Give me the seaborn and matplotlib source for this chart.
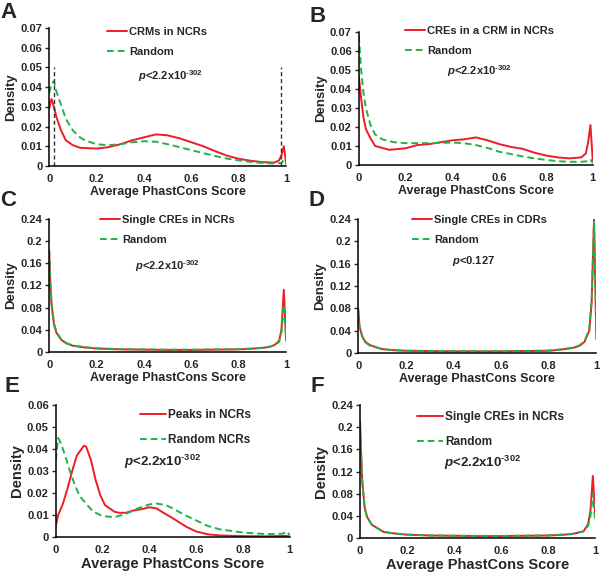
import numpy as np
import seaborn as sns
import matplotlib.pyplot as plt
from matplotlib.lines import Line2D

sns.set_style("white")
plt.rcParams['font.family'] = ['Liberation Sans', 'DejaVu Sans']
plt.rcParams['font.weight'] = 'bold'
plt.rcParams['mathtext.fontset'] = 'custom'
plt.rcParams['mathtext.rm'] = 'Liberation Sans'
plt.rcParams['mathtext.it'] = 'Liberation Sans:bold:italic'
plt.rcParams['mathtext.bf'] = 'Liberation Sans:bold'

RED = '#ee1c24'
GREEN = '#1fb34a'

# ---- data ----
# A: CRMs in NCRs vs random
a_x_red = [0, 0.005, 0.01, 0.02, 0.03, 0.05, 0.07, 0.1, 0.13, 0.2, 0.25, 0.3, 0.35, 0.4, 0.45, 0.5,
           0.55, 0.6, 0.65, 0.7, 0.75, 0.8, 0.85, 0.9, 0.95, 0.97, 0.98, 0.99, 1.0]
a_y_red = [0.029, 0.032, 0.034, 0.030, 0.025, 0.018, 0.013, 0.0105, 0.0092, 0.0088, 0.0095, 0.011,
           0.013, 0.0145, 0.016, 0.0155, 0.014, 0.012, 0.0100, 0.0075, 0.0052, 0.0036, 0.0026,
           0.0019, 0.0017, 0.0028, 0.0055, 0.0100, 0.0010]
a_x_grn = [0, 0.01, 0.02, 0.03, 0.05, 0.07, 0.1, 0.13, 0.15, 0.2, 0.25, 0.3, 0.35, 0.4, 0.45, 0.5,
           0.55, 0.6, 0.65, 0.7, 0.75, 0.8, 0.85, 0.9, 0.95, 0.98, 0.99, 1.0]
a_y_grn = [0.037, 0.042, 0.043, 0.038, 0.031, 0.024, 0.018, 0.0145, 0.013, 0.011, 0.0105, 0.011,
           0.012, 0.0125, 0.0123, 0.011, 0.0095, 0.008, 0.0065, 0.005, 0.0037, 0.0028, 0.002,
           0.0015, 0.0012, 0.0015, 0.003, 0.0008]
a_cutoffs = [0.02, 0.98]

# B: CREs in a CRM in NCRs vs random
b_x_red = [0, 0.01, 0.02, 0.03, 0.05, 0.07, 0.1, 0.13, 0.15, 0.2, 0.25, 0.3, 0.35, 0.4, 0.45, 0.5,
           0.55, 0.6, 0.65, 0.7, 0.75, 0.8, 0.85, 0.9, 0.95, 0.97, 0.98, 0.99, 1.0]
b_y_red = [0.047, 0.035, 0.025, 0.019, 0.014, 0.010, 0.009, 0.008, 0.0082, 0.0088, 0.0105, 0.011,
           0.012, 0.013, 0.0135, 0.0145, 0.013, 0.011, 0.0095, 0.0085, 0.0065, 0.005, 0.004,
           0.0035, 0.004, 0.006, 0.012, 0.021, 0.002]
b_x_grn = [0, 0.01, 0.02, 0.03, 0.05, 0.07, 0.1, 0.15, 0.2, 0.3, 0.4, 0.45, 0.5, 0.55, 0.6, 0.65,
           0.7, 0.75, 0.8, 0.85, 0.9, 0.95, 0.98, 0.99, 1.0]
b_y_grn = [0.068, 0.050, 0.038, 0.030, 0.021, 0.016, 0.0135, 0.012, 0.0115, 0.0115, 0.0118,
           0.0115, 0.0105, 0.009, 0.007, 0.0058, 0.0045, 0.0035, 0.0027, 0.002, 0.0017, 0.0017,
           0.002, 0.003, 0.001]

# C: single CREs in NCRs vs random
c_x = [0, 0.005, 0.01, 0.02, 0.03, 0.05, 0.07, 0.1, 0.15, 0.2, 0.3, 0.4, 0.5, 0.6, 0.7, 0.8,
       0.85, 0.9, 0.93, 0.95, 0.97, 0.98, 0.99, 1.0]
c_y_red = [0.180, 0.120, 0.085, 0.050, 0.035, 0.022, 0.016, 0.011, 0.008, 0.006, 0.0045, 0.004,
           0.0035, 0.0035, 0.004, 0.0045, 0.0055, 0.007, 0.009, 0.012, 0.020, 0.040, 0.112, 0.020]
c_y_grn = [0.185, 0.125, 0.088, 0.052, 0.036, 0.023, 0.016, 0.0115, 0.0085, 0.0065, 0.005, 0.0045,
           0.004, 0.004, 0.0045, 0.005, 0.006, 0.0075, 0.0095, 0.012, 0.018, 0.035, 0.085, 0.020]

# D: single CREs in CDRs vs random
d_x = [0, 0.005, 0.01, 0.02, 0.03, 0.05, 0.1, 0.15, 0.2, 0.3, 0.4, 0.5, 0.6, 0.7, 0.8, 0.85,
       0.9, 0.93, 0.95, 0.97, 0.98, 0.99, 1.0]
d_y_red = [0.080, 0.050, 0.040, 0.027, 0.020, 0.014, 0.007, 0.005, 0.004, 0.0035, 0.003, 0.003,
           0.003, 0.0035, 0.004, 0.006, 0.009, 0.013, 0.020, 0.040, 0.090, 0.240, 0.025]
d_y_grn = [0.075, 0.048, 0.038, 0.026, 0.019, 0.013, 0.007, 0.005, 0.0042, 0.0037, 0.0033, 0.0032,
           0.0033, 0.0037, 0.0045, 0.0065, 0.0095, 0.014, 0.021, 0.042, 0.095, 0.235, 0.025]

# E: peaks in NCRs vs random NCRs
e_x_red = [0, 0.01, 0.03, 0.05, 0.07, 0.09, 0.11, 0.12, 0.13, 0.15, 0.17, 0.19, 0.21, 0.23, 0.25,
           0.27, 0.3, 0.33, 0.36, 0.4, 0.43, 0.46, 0.5, 0.53, 0.56, 0.6, 0.65, 0.7, 0.8, 0.9, 0.98, 1.0]
e_y_red = [0.005, 0.010, 0.015, 0.022, 0.030, 0.037, 0.040, 0.0415, 0.041, 0.035, 0.026, 0.019,
           0.0145, 0.013, 0.0115, 0.011, 0.011, 0.012, 0.0125, 0.0135, 0.013, 0.011, 0.0085, 0.0065,
           0.0045, 0.0025, 0.0012, 0.0007, 0.0004, 0.0003, 0.0005, 0.0003]
e_x_grn = [0, 0.01, 0.02, 0.04, 0.06, 0.08, 0.1, 0.13, 0.16, 0.2, 0.25, 0.3, 0.35, 0.4, 0.43,
           0.47, 0.5, 0.55, 0.6, 0.65, 0.7, 0.8, 0.9, 0.97, 0.99, 1.0]
e_y_grn = [0.035, 0.045, 0.043, 0.037, 0.030, 0.024, 0.019, 0.015, 0.0115, 0.0095, 0.009, 0.0105,
           0.013, 0.0148, 0.0152, 0.0145, 0.013, 0.010, 0.0075, 0.005, 0.0035, 0.002, 0.0013,
           0.0015, 0.0025, 0.0005]

# F: single CREs in NCRs vs random
f_x = [0, 0.005, 0.01, 0.02, 0.03, 0.05, 0.1, 0.15, 0.2, 0.3, 0.4, 0.5, 0.6, 0.7, 0.8, 0.85,
       0.9, 0.95, 0.97, 0.98, 0.99, 1.0]
f_y_red = [0.210, 0.150, 0.100, 0.055, 0.038, 0.024, 0.011, 0.008, 0.006, 0.0045, 0.004, 0.0035,
           0.0035, 0.004, 0.0045, 0.0055, 0.007, 0.012, 0.025, 0.050, 0.112, 0.040]
f_y_grn = [0.205, 0.145, 0.098, 0.054, 0.037, 0.024, 0.011, 0.008, 0.0062, 0.0047, 0.0042, 0.0038,
           0.0038, 0.0042, 0.0048, 0.006, 0.0075, 0.012, 0.022, 0.040, 0.080, 0.030]

P_SMALL = r'$\mathit{p}$<2.2x10$^{\text{-302}}$'

panels = [
    dict(letter='A', rect=[0.082, 0.711, 0.395, 0.240], x_red=a_x_red, y_red=a_y_red,
         x_grn=a_x_grn, y_grn=a_y_grn, labels=['CRMs in NCRs', 'Random'],
         yticks=np.arange(0, 0.071, 0.01), p=P_SMALL,
         leg=(0.245, 1.01), ptext=(0.51, 0.652), big=False),
    dict(letter='B', rect=[0.598, 0.7125, 0.39, 0.232], x_red=b_x_red, y_red=b_y_red,
         x_grn=b_x_grn, y_grn=b_y_grn, labels=['CREs in a CRM in NCRs', 'Random'],
         yticks=np.arange(0, 0.071, 0.01), p=P_SMALL,
         leg=(0.197, 1.045), ptext=(0.517, 0.707), big=False),
    dict(letter='C', rect=[0.082, 0.387, 0.395, 0.2317], x_red=c_x, y_red=c_y_red,
         x_grn=c_x, y_grn=c_y_grn, labels=['Single CREs in NCRs', 'Random'],
         yticks=np.arange(0, 0.241, 0.04), p=P_SMALL,
         leg=(0.215, 1.03), ptext=(0.50, 0.647), big=False),
    dict(letter='D', rect=[0.597, 0.385, 0.397, 0.2334], x_red=d_x, y_red=d_y_red,
         x_grn=d_x, y_grn=d_y_grn, labels=['Single CREs in CDRs', 'Random'],
         yticks=np.arange(0, 0.241, 0.04), p=r'$\mathit{p}$<0.127',
         leg=(0.227, 1.03), ptext=(0.483, 0.687), big=False),
    dict(letter='E', rect=[0.093, 0.0645, 0.39, 0.230], x_red=e_x_red, y_red=e_y_red,
         x_grn=e_x_grn, y_grn=e_y_grn, labels=['Peaks in NCRs', 'Random NCRs'],
         yticks=np.arange(0, 0.061, 0.01), p=P_SMALL,
         leg=(0.36, 0.97), ptext=(0.457, 0.568), big=True),
    dict(letter='F', rect=[0.6, 0.0627, 0.392, 0.2317], x_red=f_x, y_red=f_y_red,
         x_grn=f_x, y_grn=f_y_grn, labels=['Single CREs in NCRs', 'Random'],
         yticks=np.arange(0, 0.241, 0.04), p=P_SMALL,
         leg=(0.243, 0.955), ptext=(0.52, 0.564), big=True),
]

fig = plt.figure(figsize=(6, 5.74), dpi=100)

for pn in panels:
    big = pn['big']
    ax = fig.add_axes(pn['rect'])
    sns.lineplot(x=pn['x_red'], y=pn['y_red'], ax=ax, color=RED, lw=1.4, sort=False)
    sns.lineplot(x=pn['x_grn'], y=pn['y_grn'], ax=ax, color=GREEN, lw=1.4, sort=False,
                 dashes=False, linestyle=(0, (3.5, 2)))
    if pn['letter'] == 'A':
        for c in a_cutoffs:
            ax.axvline(c, ymin=0, ymax=0.05 / 0.07, color='#333333', lw=1.0, ls=(0, (3, 2)))

    ax.set_xlim(0, 1)
    ax.set_ylim(0, pn['yticks'][-1])
    ax.set_xticks([0, 0.2, 0.4, 0.6, 0.8, 1])
    ax.set_xticklabels(['0', '0.2', '0.4', '0.6', '0.8', '1'])
    ax.set_yticks(pn['yticks'])
    ax.set_yticklabels(['{:g}'.format(round(v, 2)) for v in pn['yticks']])
    ax.tick_params(axis='x', length=0, pad=6, labelsize=8)
    ax.tick_params(axis='y', length=3, width=1, direction='out', left=True, pad=2, labelsize=8)
    for lab in ax.get_xticklabels() + ax.get_yticklabels():
        lab.set_fontweight('bold')
    sns.despine(ax=ax)
    for s in ('left', 'bottom'):
        ax.spines[s].set_color('black')
        ax.spines[s].set_linewidth(1.1)

    ax.set_xlabel('Average PhastCons Score', fontsize=10.5 if big else 9, fontweight='bold',
                  labelpad=1)
    ax.set_ylabel('Density', fontsize=10.5 if big else 9.5, fontweight='bold', labelpad=2)

    handles = [Line2D([], [], color=RED, lw=1.4),
               Line2D([], [], color=GREEN, lw=1.4, ls=(0, (3.5, 2)))]
    ax.legend(handles, pn['labels'], loc='upper left', bbox_to_anchor=pn['leg'], frameon=False,
              borderaxespad=0, borderpad=0, handletextpad=0.2,
              handlelength=2.2 if big else 1.8, labelspacing=1.1 if big else 0.9,
              prop=dict(weight='bold', size=8.5 if big else 8))
    ax.text(pn['ptext'][0], pn['ptext'][1], pn['p'], transform=ax.transAxes, ha='center',
            va='center', fontsize=9.5 if big else 8, fontweight='bold')

    fx = pn['rect'][0] - (0.085 if pn['letter'] in 'ACE' else 0.082)
    fy = pn['rect'][1] + pn['rect'][3] + (0.027 if pn['letter'] in 'AB' else 0.032)
    fig.text(max(fx, 0.0), fy, pn['letter'], fontsize=16, fontweight='bold', ha='left',
             va='center')

fig.savefig('out.png', dpi=100)
